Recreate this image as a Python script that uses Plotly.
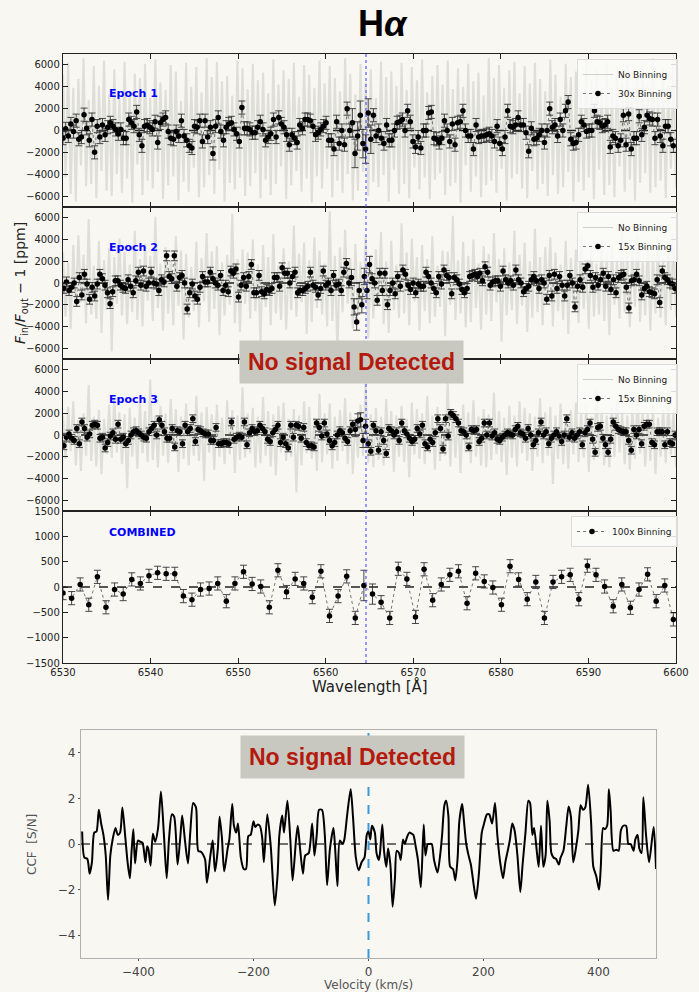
import numpy as np
import plotly.graph_objects as go

BG = "#f8f7f2"

# ---------------- data ----------------
# Epoch 1, 30x binned transmission [ppm]
e1_binned = [-700,150,-500,600,-100,900,-800,-600,1450,200,
             -900,1000,-2000,400,-600,500,-400,300,700,400,
             100,-300,100,-700,-700,1000,700,400,1700,-400,
             -1400,400,500,300,100,800,-1100,700,1000,1200,
             -100,-700,-800,-100,-500,900,-500,-900,-1400,-1600,
             400,300,900,-1000,900,-600,300,-2100,400,1200,
             -100,-900,300,600,700,100,-300,-1000,2100,200,
             200,100,-200,-200,300,800,100,-900,-600,-300,
             1000,-600,1200,600,300,-400,-1300,-400,-700,-1100,
             500,200,1000,1000,900,400,-400,-200,100,400,
             700,-900,-900,-1700,800,-1200,0,-1300,2000,0,
             700,-2100,-500,1400,-1200,-1700,1600,-800,1400,-500,
             0,-700,-1200,500,-900,-900,0,700,800,1000,
             0,1800,800,-1000,-1500,-600,-1600,0,0,1600,
             1700,-700,-800,-1100,-700,900,0,-1000,600,-1300,
             700,800,1800,0,-500,-500,-1700,500,-600,-500,
             -500,-400,-300,-500,-1000,400,-1200,-1700,-600,1800,
             400,300,500,1200,500,500,-200,-1900,200,-800,
             -700,-400,0,-1100,0,2000,300,500,-500,1000,
             0,1800,2600,-800,-1200,-1100,-400,800,500,-100,
             0,0,1800,800,700,400,500,800,-1500,-500,
             -700,-1400,-900,1400,-1300,1500,-1700,-700,-700,1300,
             -400,300,1400,1100,1000,-700,1000,-500,-1400,400,
             400,-800,-1400]
e1_err = [600]*110 + [1300]*8 + [600]*115

# Epoch 2, 15x binned [ppm]
e2_binned = [-500,100,-700,-400,0,-1700,500,-1100,800,-100,
             -1500,-400,-1200,-100,800,400,-200,-900,-1900,-800,
             200,200,-200,-400,-500,300,-300,-900,200,1000,
             -200,1100,-300,0,1000,0,-100,-700,300,100,
             2500,600,400,2500,-300,500,700,0,-2400,-900,
             -100,-1200,-1500,-400,600,100,100,1000,400,0,
             -200,700,-700,-200,-800,1100,900,1300,-1300,-200,
             500,-300,600,1700,-900,-900,700,-800,-1000,-600,
             -700,-500,500,500,-300,1400,900,900,0,600,
             1000,-900,-700,-700,-500,-300,1000,-200,-400,-1100,
             -500,1100,-200,0,-700,700,-200,-100,-700,1000,
             1800,0,
             500,-2200,-3600,-700,-2000,600,-700,1700,400,0,
             -1600,900,-700,900,-2000,-700,0,-1000,600,-300,
             1200,800,-200,-600,0,-900,-100,-300,-300,1000,
             600,0,-500,-900,600,-100,1200,700,500,-1000,
             500,300,-100,-600,-900,-500,600,700,800,600,
             900,200,1500,1000,-200,100,200,200,-300,1100,
             300,0,200,-200,1200,300,0,-800,-500,-300,
             300,600,200,-500,300,0,-1500,700,-1200,800,
             -500,600,-200,-1200,-200,700,0,-2200,-300,300,
             -400,1300,1600,700,-400,500,-200,300,900,-300,
             600,-600,300,-900,500,700,800,-400,-2300,200,
             300,800,200,-1100,-500,-300,-800,-900,-1000,300,
             -1800,1100,500,300,0,-100,-500]
e2_err = [450]*112 + [750]*8 + [450]*119

# Epoch 3, 15x binned [ppm]
e3_binned = [-1000,-200,100,-300,-500,600,-800,1200,600,-200,
             100,900,1000,900,-300,-200,-1200,-700,-100,200,
             -400,1000,-400,-200,-800,-500,0,300,400,200,
             0,-200,-300,300,600,900,0,1400,900,300,
             -300,-300,600,-1100,400,300,-800,900,300,600,
             1500,-600,500,400,200,100,100,-500,-500,700,
             -800,-800,-700,-700,-800,1200,-400,-200,-100,-200,
             1200,-900,200,600,300,400,900,600,300,-400,
             -600,200,500,900,-700,-200,-800,-1200,900,-200,
             900,800,-300,700,-700,-1000,-1000,-1100,1100,700,
             -100,1100,100,-500,-1000,-700,0,400,200,-300,
             -600,400,1000,500,1300,1400,-500,800,-800,-1500,
             900,400,-1400,300,-500,-1700,600,400,0,300,
             -500,1100,400,100,-300,-600,-400,600,100,900,
             -800,-1100,-400,-700,200,1500,600,-1300,1500,-100,
             2000,1800,1500,1100,400,300,0,-1100,500,400,
             500,-600,-300,1100,0,1100,-100,200,-400,-500,
             -200,0,200,100,0,500,800,200,100,-300,
             600,0,-900,-500,200,1200,0,300,-800,-300,
             0,300,-100,-600,0,1500,-200,200,-300,0,
             300,-900,200,500,1100,-400,-1600,700,800,-300,
             -900,-1600,-400,1200,800,500,400,300,300,-500,
             -1400,500,0,500,-800,800,1000,1000,-700,-900,
             300,300,300,-900,300,-700,-800,0]
e3_err = [350]*113 + [650]*5 + [350]*120

# Combined, 100x binned [ppm]
comb_binned = [-120,-220,50,-350,200,-400,-50,-140,150,70,
               220,280,260,260,-180,-250,-50,-30,70,-280,
               70,300,60,10,-400,330,-100,160,70,-200,
               310,-570,-180,210,-610,30,-140,-300,-610,360,
               160,-590,350,-260,50,240,310,-320,270,110,
               -10,-350,410,150,-240,100,-610,100,200,240,
               -240,420,240,10,-380,50,-410,-50,250,-280,
               30,-640]
comb_err = [130]*35 + [300, 200] + [130]*35

# Unbinned spectra [thousand ppm]
raw_e1_k = [5.1,-4.3,6.2,-5.8,3.9,-6.5,4.7,-3.2,6.6,-5.1,2.8,-4.9,5.9,-6.2,4.1,-3.7,6.4,-5.5,3.3,-6.0,
            5.6,-4.0,2.9,-5.7,6.3,-4.4,3.6,-6.6,5.2,-3.1,4.8,-5.9,6.1,-4.6,3.0,-5.3,6.5,-3.8,4.4,-6.3,
            3.7,-5.0,6.0,-4.2,5.4,-6.4,2.7,-4.7,6.2,-5.6,4.0,-3.4,5.8,-6.1,3.5,-5.2,6.6,-4.1,4.9,-5.8,
            6.3,-3.6,4.5,-6.5,5.0,-4.8,3.2,-5.4,6.4,-4.3,5.7,-6.0,3.8,-5.1,6.1,-3.9,4.6,-6.2,5.3,-4.5,
            3.4,-5.9,6.5,-4.9,4.2,-3.3,5.5,-6.3,4.7,-5.0,6.2,-3.7,3.1,-5.6,6.0,-4.4,5.1,-6.6,3.9,-4.2,
            6.4,-5.3,4.3,-3.5,5.9,-6.1,4.8,-4.6,3.6,-5.7,6.6,-4.0,5.2,-6.4,3.3,-5.5,6.1,-3.8,4.4,-6.0,
            5.6,-4.7,3.0,-5.2,6.3,-4.1,4.9,-6.5,5.4,-3.6,4.1,-5.8,6.2,-4.9,3.7,-6.2,5.8,-3.4,4.6,-5.4,
            6.5,-4.3,3.5,-6.3,5.0,-4.5,6.0,-3.9,4.2,-5.9,6.4,-5.1,3.8,-4.8,5.7,-6.6,4.0,-3.2,6.1,-5.6,
            4.5,-4.2,5.3,-6.1,3.2,-5.0,6.6,-4.6,4.8,-5.7,6.0,-3.5,3.9,-6.4,5.5,-4.4,6.3,-4.0,3.4,-5.3,
            5.9,-6.2,4.3,-3.7,6.2,-5.4,4.7,-4.9,3.6,-6.0,6.5,-4.1,5.1,-5.8,3.1,-5.2,6.1,-3.8,4.9,-6.5,
            5.4,-4.7,3.3,-5.5,6.4,-4.3,4.6,-6.3,5.7,-3.6,4.0,-5.9,6.2,-5.0,3.7,-6.1,5.8,-3.3,4.4,-5.6,
            6.0,-4.5,3.9,-6.4,5.2,-4.8,6.3,-3.9,4.1,-5.7,6.6,-5.2,3.5,-4.6,5.6,-6.2,4.2,-3.5,6.0,-5.3]
raw_e2_k = [2.8,-3.1,1.9,-4.2,3.5,-2.2,4.4,-1.8,2.6,-3.7,5.9,-2.9,1.6,-3.3,3.9,-4.6,2.1,-2.5,3.2,-6.3,
            2.4,-1.9,4.1,-3.0,2.9,-3.8,1.7,-2.7,4.8,-3.4,2.2,-4.0,3.6,-1.6,2.5,-3.5,6.1,-2.3,1.8,-4.4,
            3.3,-2.8,2.0,-3.9,4.3,-2.1,3.0,-5.2,2.7,-3.2,1.5,-2.6,3.8,-4.1,2.3,-1.7,4.6,-3.6,2.9,-2.4,
            3.4,-4.8,1.9,-3.0,2.6,-2.0,6.4,-3.7,2.2,-4.5,3.1,-1.9,2.8,-3.3,4.0,-2.6,1.7,-5.6,3.5,-2.2,
            2.4,-3.9,4.5,-2.8,1.6,-3.4,3.2,-4.3,2.0,-2.5,5.3,-3.1,2.7,-1.8,3.7,-4.7,2.1,-3.6,4.2,-2.3,
            3.0,-2.9,1.8,-4.0,6.6,-3.5,2.5,-6.5,3.3,-2.7,4.9,-1.9,2.3,-4.2,3.6,-3.0,1.9,-2.4,4.4,-5.1,
            2.6,-3.3,3.1,-2.1,4.7,-3.8,2.0,-4.6,3.9,-2.5,1.7,-3.2,5.5,-2.8,2.8,-3.9,4.1,-1.7,2.4,-4.4,
            3.5,-2.6,2.2,-3.7,4.3,-3.1,1.6,-2.2,3.0,-4.9,2.9,-2.0,6.2,-3.4,2.1,-2.8,3.8,-4.1,2.5,-3.6,
            4.0,-2.3,1.8,-4.3,3.4,-2.9,2.7,-3.5,4.6,-1.8,2.2,-5.4,3.2,-3.0,1.9,-2.5,4.8,-3.8,2.6,-2.1,
            3.7,-4.5,2.0,-3.2,5.0,-2.7,2.4,-3.9,3.3,-1.6,4.2,-4.0,2.8,-2.6,1.7,-3.4,3.9,-4.7,2.3,-2.2,
            3.1,-3.7,4.5,-2.4,2.0,-4.2,3.6,-3.1,1.8,-2.9,4.0,-3.5,2.6,-4.8,3.4,-2.0,2.1,-3.3,5.7,-2.7,
            2.9,-4.1,3.2,-2.2,4.4,-3.6,1.9,-3.0,3.7,-4.4,2.5,-2.8,4.1,-3.2,2.2,-3.9,3.5,-2.5,4.6,-3.1]
raw_e3_k = [1.8,-2.2,2.6,-1.5,3.1,-2.8,1.4,-3.3,2.0,-1.9,4.6,-2.4,1.7,-2.9,2.3,-3.6,1.5,-1.8,2.8,-2.1,
            3.4,-1.6,2.1,-2.7,1.9,-4.9,2.5,-2.0,1.6,-3.1,3.0,-1.7,2.2,-2.5,5.1,-2.3,1.8,-3.0,2.7,-1.9,
            2.0,-2.6,3.3,-1.5,2.4,-3.4,1.7,-2.2,2.9,-2.8,1.5,-1.9,3.6,-2.4,2.1,-4.2,2.6,-1.6,1.9,-3.2,
            2.8,-2.0,1.6,-2.7,3.2,-1.8,2.3,-3.5,1.8,-2.3,4.4,-2.1,2.0,-1.7,2.5,-3.0,1.7,-2.6,3.5,-1.9,
            2.2,-2.9,1.9,-3.7,2.7,-1.6,3.0,-2.4,1.5,-2.0,2.4,-5.3,1.8,-2.8,3.1,-1.7,2.6,-2.2,1.6,-3.3,
            3.8,-2.5,2.0,-1.8,2.9,-3.1,1.7,-2.4,2.3,-1.5,3.4,-2.7,2.1,-3.6,1.6,-2.1,2.8,-1.9,4.8,-2.6,
            1.9,-3.0,2.5,-2.3,1.7,-2.8,3.3,-1.6,2.2,-3.4,1.8,-2.0,2.7,-2.5,1.5,-3.9,3.0,-1.8,2.4,-2.2,
            2.0,-2.7,3.6,-1.7,1.8,-3.2,2.6,-2.4,1.6,-1.9,5.0,-2.9,2.3,-2.1,1.9,-3.5,2.8,-1.6,2.1,-2.6,
            3.2,-2.0,1.7,-2.8,2.4,-3.0,1.9,-2.3,3.9,-1.8,2.2,-2.5,1.6,-3.7,2.7,-2.1,1.8,-2.9,3.1,-1.7,
            2.5,-2.4,2.0,-3.3,1.7,-2.0,3.4,-2.6,2.1,-1.9,2.6,-4.5,1.8,-2.2,2.9,-2.7,1.6,-3.1,2.3,-1.8,
            3.0,-2.5,1.9,-2.1,2.7,-3.4,1.7,-2.3,4.2,-1.9,2.2,-2.8,1.8,-3.0,2.5,-2.0,3.3,-1.6,2.0,-2.7,
            1.8,-3.2,2.6,-2.2,3.5,-1.7,2.1,-2.9,1.9,-2.4,2.8,-3.6,1.6,-2.0,2.4,-2.6,3.1,-1.8,2.2,-3.0]

# Cross-correlation function
ccf_v = [-498,-494,-489,-485,-481,-477,-473,-469,-465,-461,-457,-453,-449,-445,-440,-436,-432,-428,-423,-419,
         -415,-412,-409,-406,-401,-397,-393,-388,-385,-383,-379,-375,-371,-366,-361,-356,-351,-347,-342,-338,
         -332,-327,-324,-319,-314,-310,-305,-300,-296,-291,-287,-284,-281,-275,-271,-267,-262,-259,-255,-251,
         -245,-242,-237,-234,-230,-227,-222,-217,-213,-209,-205,-200,-197,-193,-189,-185,-182,-176,-170,-163,
         -158,-155,-150,-147,-141,-136,-132,-126,-123,-119,-114,-110,-104,-98,-94,-90,-86,-81,-76,-72,
         -67,-61,-58,-54,-50,-45,-42,-37,-31,-27,-22,-17,-12,-7,-3,
         0,3,6,11,14,18,20,24,27,31,34,38,42,46,49,53,56,60,63,67,
         71,75,78,82,86,91,96,99,103,106,110,114,120,125,128,132,135,139,142,147,
         151,155,158,163,166,170,174,178,183,187,192,197,201,206,210,215,220,224,229,234,
         238,243,246,250,254,259,264,268,273,278,281,285,288,293,296,300,304,308,311,315,
         318,322,326,331,334,339,344,348,352,356,360,365,369,373,377,382,387,391,396,401,
         404,408,411,415,418,421,426,431,435,439,443,448,452,456,461,464,468,471,475,478,
         483,488,496,500]
ccf_snr = [0.55,-0.6,-0.65,-1.3,-0.8,0.5,0.55,1.5,0.9,0.4,-0.5,-2.45,-0.5,0.2,0.7,0.4,0.5,1.6,0.3,-0.8,
           -1.5,-0.3,0.65,-0.85,0.15,0.1,0.05,-0.8,-0.1,-0.2,-0.95,0.45,0.1,0.7,2.3,0.5,-1.5,0.2,1.3,1.2,
           -0.9,0.4,1.25,0.1,-0.85,0.5,1.8,1.6,-0.3,-0.35,-0.5,-0.7,-1.7,-0.5,0.15,-1.2,-0.2,1.2,0.3,-1.2,
           -0.2,0.2,1.75,0.8,0.5,0.9,-0.6,-1.1,-1.1,0.35,0.4,1.0,0.75,0.85,0.8,0.3,-0.8,1.3,-0.1,-2.7,
           -1.3,0.4,1.25,0.5,1.9,0.2,-1.6,0.2,0.8,-0.2,-1.3,-0.5,-0.4,0.9,-0.5,0.4,1.5,1.5,0.4,-1.8,
           -0.2,0.7,-0.2,-1.85,0.15,0.0,0.2,1.3,2.4,1.2,-0.6,-1.15,-0.8,-0.6,0.4,
           0.55,0.2,0.8,0.5,-0.4,-0.7,-0.4,0.85,-0.3,-1.0,-0.2,-0.9,-2.75,-1.5,-0.3,-0.4,-0.7,0.2,0.0,0.3,
           0.5,0.45,0.4,-0.1,-0.7,-1.9,0.85,-0.5,0.0,0.0,0.0,-0.7,-1.25,-0.4,0.4,1.7,1.9,1.2,-1.0,-1.1,
           -1.6,-0.6,1.0,1.75,1.0,0.0,-0.5,-0.9,-1.8,-2.4,-1.3,0.5,0.9,1.3,1.3,0.9,1.8,0.4,-0.8,-1.5,
           -0.8,-0.2,0.2,0.9,0.6,-0.5,-2.1,-0.9,0.5,1.9,1.8,0.4,0.7,-0.4,-1.0,0.8,-1.0,-0.5,1.9,1.0,
           -0.4,-0.6,-0.65,-0.9,-0.6,-0.3,0.8,1.65,1.2,-0.8,-0.3,0.6,1.7,1.5,1.6,2.6,1.0,-1.0,-1.4,-2.0,
           -1.0,0.7,0.65,0.8,2.4,1.5,-0.3,-0.25,-0.3,0.6,0.8,0.8,0.0,0.0,-0.3,0.2,0.4,-0.2,-0.4,2.05,
           0.3,-0.8,0.75,-1.1]

H_ALPHA = 6564.6
WL_RANGE = [6530, 6600]
V_RANGE = [-500, 500]
SNR_RANGE = [-5, 5]
wl_ticks = [6530, 6540, 6550, 6560, 6570, 6580, 6590, 6600]
ppm_ticks = [-6000, -4000, -2000, 0, 2000, 4000, 6000]
ppm_ticks_comb = [-1500, -1000, -500, 0, 500, 1000, 1500]
v_ticks = [-400, -200, 0, 200, 400]
snr_ticks = [-4, -2, 0, 2, 4]

panels = [
    ("Epoch 1", "30x Binning", e1_binned, e1_err, raw_e1_k, (6530.0, 6599.7)),
    ("Epoch 2", "15x Binning", e2_binned, e2_err, raw_e2_k, (6530.1, 6599.9)),
    ("Epoch 3", "15x Binning", e3_binned, e3_err, raw_e3_k, (6530.1, 6599.9)),
    ("COMBINED", "100x Binning", comb_binned, comb_err, None, (6530.0, 6599.7)),
]

# ---------------- layout geometry ----------------
W, H = 699, 992
def px_x(p): return p / W
def px_y(p): return 1 - p / H

X_DOM = [px_x(63), px_x(676)]
Y_EDGES = [54, 207, 359, 511, 663]
CCF_X = [px_x(81), px_x(656)]
CCF_Y = [px_y(958), px_y(730)]

def lab(v):
    return ("\u2212" + str(-v)) if v < 0 else str(v)

fig = go.Figure()
layout = dict(width=W, height=H, autosize=False, margin=dict(l=0, r=0, t=0, b=0, pad=0),
              paper_bgcolor=BG, plot_bgcolor=BG, showlegend=True)

FONT = "DejaVu Sans, Liberation Sans, sans-serif"
HELV = "Liberation Sans, Arial, sans-serif"
GRAY = "#dfdfd9"
annotations, shapes = [], []

for i, (name, binlab, vals, errs, raw, span) in enumerate(panels):
    k = i + 1
    xa = "x" if k == 1 else f"x{k}"
    ya = "y" if k == 1 else f"y{k}"
    lg = "legend" if k == 1 else f"legend{k}"
    if raw is not None:
        # legend sample (thin line) for the unbinned spectrum
        fig.add_trace(go.Scatter(x=[None], y=[None], mode="lines", name="No Binning",
                                 line=dict(color="#cfcfc8", width=1),
                                 xaxis=xa, yaxis=ya, legend=lg))
        raw_ppm = np.array(raw) * 1000.0
        wl_raw = np.linspace(WL_RANGE[0], WL_RANGE[1], len(raw_ppm))
        fig.add_trace(go.Scatter(x=wl_raw, y=raw_ppm, mode="lines", name="No Binning",
                                 showlegend=False, line=dict(color=GRAY, width=2.1),
                                 xaxis=xa, yaxis=ya, legend=lg))
    fig.add_trace(go.Scatter(x=WL_RANGE, y=[0, 0], mode="lines", showlegend=False,
                             line=dict(color="#222", width=1.3, dash="dash"),
                             xaxis=xa, yaxis=ya, hoverinfo="skip"))
    wl = np.linspace(span[0], span[1], len(vals))
    fig.add_trace(go.Scatter(x=wl, y=vals, mode="lines+markers", name=binlab,
                             line=dict(color="#555", width=0.8, dash="dot"),
                             marker=dict(color="black", size=5.5),
                             error_y=dict(type="data", array=errs, color="#333",
                                          thickness=0.9, width=3.5),
                             xaxis=xa, yaxis=ya, legend=lg))
    ytop, ybot = Y_EDGES[i], Y_EDGES[i + 1]
    if k < 4:
        yr, yt = [-7000, 7000], ppm_ticks
    else:
        yr, yt = [-1500, 1500], ppm_ticks_comb
    axcommon = dict(showline=True, linecolor="#222", linewidth=1.3, mirror="ticks",
                    ticks="inside", ticklen=5, tickwidth=1, tickcolor="#222",
                    showgrid=False, zeroline=False, automargin=False,
                    tickfont=dict(family=FONT, size=10, color="#222"))
    layout["xaxis" if k == 1 else f"xaxis{k}"] = dict(
        domain=X_DOM, range=WL_RANGE, anchor=ya, tickvals=wl_ticks,
        ticktext=[str(t) for t in wl_ticks], showticklabels=(k == 4), **axcommon)
    layout["yaxis" if k == 1 else f"yaxis{k}"] = dict(
        domain=[px_y(ybot), px_y(ytop)], range=yr, anchor=xa, tickvals=yt,
        ticktext=[lab(t) for t in yt], **axcommon)
    layout[lg] = dict(x=px_x(678), xanchor="right", y=px_y(ytop + 5), yanchor="top",
                      bgcolor="rgba(250,250,248,0.85)", bordercolor="#dcdcdc", borderwidth=1,
                      font=dict(family=FONT, size=9, color="#222"), tracegroupgap=0,
                      itemwidth=30)
    label_y = [94, 247, 399, 532][i]
    annotations.append(dict(text=f"<b>{name}</b>", x=px_x(107), y=px_y(label_y),
                            xref="paper", yref="paper", xanchor="left", yanchor="middle",
                            showarrow=False, font=dict(family=FONT, size=11, color="#0000ff")))

shapes.append(dict(type="line", xref="x4", yref="paper", x0=H_ALPHA, x1=H_ALPHA,
                   y0=px_y(663), y1=px_y(54), line=dict(color="#3b3bff", width=1, dash="dot")))

# CCF panel
fig.add_trace(go.Scatter(x=V_RANGE, y=[0, 0], mode="lines", showlegend=False,
                         line=dict(color="#444", width=1.5, dash="dash"),
                         xaxis="x5", yaxis="y5", hoverinfo="skip"))
fig.add_trace(go.Scatter(x=[0, 0], y=SNR_RANGE, mode="lines", showlegend=False,
                         line=dict(color="#3a9ad9", width=2, dash="dash"),
                         xaxis="x5", yaxis="y5", hoverinfo="skip"))
fig.add_trace(go.Scatter(x=ccf_v, y=ccf_snr, mode="lines", showlegend=False,
                         line=dict(color="black", width=2, shape="spline", smoothing=0.7),
                         xaxis="x5", yaxis="y5"))
ccfax = dict(showline=True, linecolor="#b0b0b0", linewidth=1.2, mirror=True,
             ticks="outside", ticklen=2, tickcolor="#555", showgrid=False, zeroline=False,
             automargin=False, tickfont=dict(family=FONT, size=12, color="#444"))
layout["xaxis5"] = dict(domain=CCF_X, range=V_RANGE, anchor="y5", tickvals=v_ticks,
                        ticktext=[lab(t) for t in v_ticks], **ccfax)
layout["yaxis5"] = dict(domain=CCF_Y, range=SNR_RANGE, anchor="x5", tickvals=snr_ticks,
                        ticktext=[lab(t) for t in snr_ticks], **ccfax)

def ann(text, x, y, size, color="#222", family=FONT, **kw):
    d = dict(text=text, x=px_x(x), y=px_y(y), xref="paper", yref="paper",
             xanchor="center", yanchor="middle", showarrow=False,
             font=dict(family=family, size=size, color=color))
    d.update(kw)
    return d

annotations += [
    ann("<b>H<i>α</i></b>", 383, 24, 36, color="black", family=HELV),
    ann("<i>F</i><sub>in</sub>/<i>F</i><sub>out</sub> \u2212 1 [ppm]", 21, 283, 14, textangle=-90),
    ann("Wavelength [Å]", 370, 686, 15),
    ann("<b>No signal Detected</b>", 351, 362, 23, color="#b3190c", family=HELV,
        bgcolor="#c9c8c0", borderpad=8),
    ann("<b>No signal Detected</b>", 353, 757, 23, color="#b3190c", family=HELV,
        bgcolor="#c9c8c0", borderpad=8),
    ann("CCF  [S/N]", 32, 845, 12, color="#555", textangle=-90),
    ann("Velocity (km/s)", 368, 985, 12, color="#555"),
]
layout["annotations"] = annotations
layout["shapes"] = shapes
fig.update_layout(**layout)
fig.write_html("out.html", config={"responsive": False, "displayModeBar": False},
               post_script="document.body.style.margin='0';document.body.style.overflow='hidden';")
